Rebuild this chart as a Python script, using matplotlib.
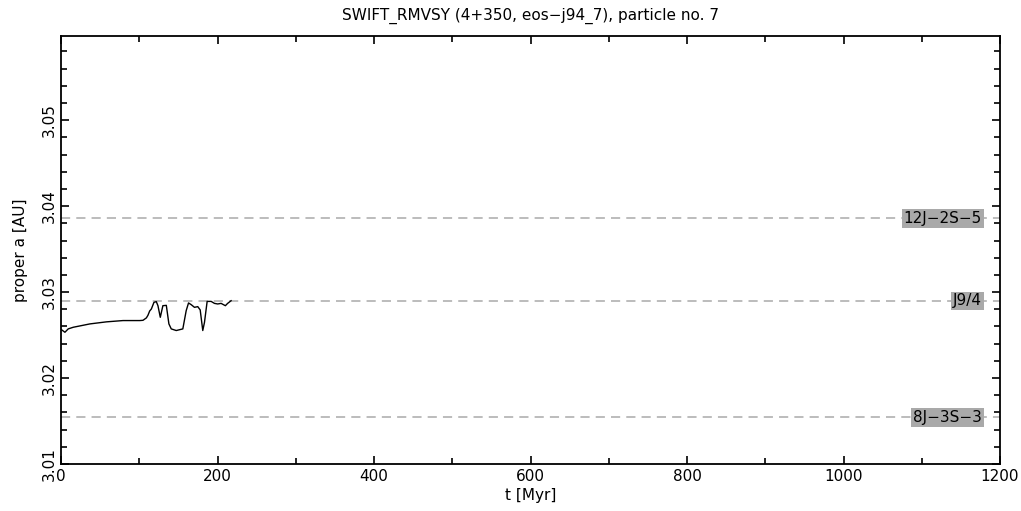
import matplotlib
matplotlib.use("Agg")
import matplotlib.pyplot as plt
from matplotlib.ticker import MultipleLocator

# proper semimajor axis of particle 7
t_myr = [0.5, 4.7, 8.9, 15.3, 36.6, 57.8, 79.0, 100.3, 104.5, 108.8,
         110.8, 113.0, 115.2, 118.5, 121.5, 123.6, 126.6, 129.9, 134.3,
         137.6, 140.6, 147.0, 155.4, 159.7, 162.7, 166.1, 170.3, 174.5,
         177.6, 180.9, 183.1, 186.5, 191.6, 195.8, 200.0, 204.3, 209.8,
         212.7, 217.1]
a_au = [3.02561, 3.02533, 3.02572, 3.02591, 3.02630, 3.02654, 3.02669,
        3.02669, 3.02672, 3.02700, 3.02730, 3.02780, 3.02804, 3.02881,
        3.02889, 3.02842, 3.02707, 3.02842, 3.02846, 3.02630, 3.02572,
        3.02553, 3.02572, 3.02784, 3.02874, 3.02854, 3.02823, 3.02831,
        3.02793, 3.02553, 3.02649, 3.02892, 3.02892, 3.02869, 3.02862,
        3.02869, 3.02842, 3.02869, 3.02900]

res_names = ["12J-2S-5", "J9/4", "8J-3S-3"]
res_a = [3.03857, 3.0290, 3.01541]


def plot_particle():
    fig = plt.figure(figsize=(10.21, 5.11), dpi=100)
    ax = fig.add_axes([0.060, 0.092, 0.9194, 0.8375])

    for name, a in zip(res_names, res_a):
        ax.axhline(a, color="#aaaaaa", lw=1.1, ls=(0, (6, 4)), zorder=1)
        ax.text(1177, a, name.replace("-", "\u2212"), ha="right", va="center",
                fontsize=11, color="black", zorder=3,
                bbox=dict(facecolor="#a9a9a9", edgecolor="none", pad=1.2))

    ax.plot(t_myr, a_au, color="black", lw=1.0, zorder=2)

    ax.set_xlim(0, 1200)
    ax.set_ylim(3.01, 3.0598)
    ax.xaxis.set_major_locator(MultipleLocator(200))
    ax.xaxis.set_minor_locator(MultipleLocator(100))
    ax.yaxis.set_major_locator(MultipleLocator(0.01))
    ax.yaxis.set_minor_locator(MultipleLocator(0.002))
    ax.yaxis.set_major_formatter(lambda v, pos: f"{v:.2f}")
    ax.tick_params(which="both", direction="in", top=True, right=True,
                   width=1.2, labelsize=11)
    ax.tick_params(which="major", length=6)
    ax.tick_params(which="minor", length=4)
    for lbl in ax.get_yticklabels():
        lbl.set_rotation(90)
        lbl.set_va("center")
    for sp in ax.spines.values():
        sp.set_linewidth(1.3)

    ax.set_xlabel("t [Myr]", fontsize=11, labelpad=3)
    ax.set_ylabel("proper a [AU]", fontsize=11, labelpad=10)
    ax.set_title("SWIFT_RMVSY (4+350, eos\u2212j94_7), particle no. 7",
                 fontsize=11, pad=12)

    fig.savefig("out.png", dpi=100)


def main():
    plot_particle()


if __name__ == "__main__":
    main()
